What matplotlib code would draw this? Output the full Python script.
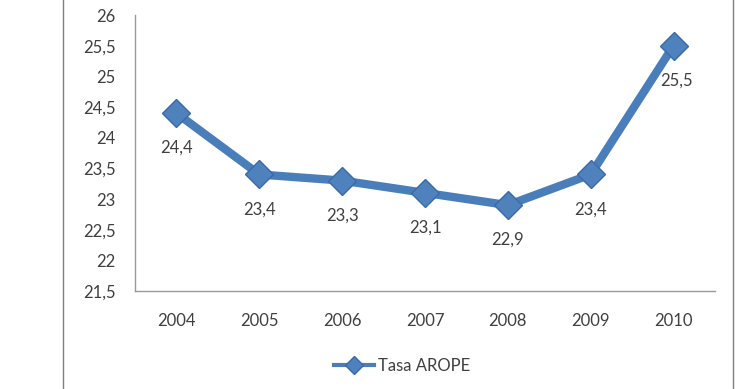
import matplotlib.pyplot as plt
from matplotlib.lines import Line2D
import numpy as np

plt.rcParams['font.family'] = ['Lato', 'DejaVu Sans']

years = ['2004', '2005', '2006', '2007', '2008', '2009', '2010']
tasa_arope = [24.4, 23.4, 23.3, 23.1, 22.9, 23.4, 25.5]
yticks = [21.5, 22, 22.5, 23, 23.5, 24, 24.5, 25, 25.5, 26]

blue = '#4a7ebb'
text_col = '#404040'

fig = plt.figure(figsize=(7.4, 3.89), dpi=100)
ax = fig.add_axes([135 / 740, 1 - 291 / 389, 580 / 740, 276 / 389])

x = np.arange(len(years))
ax.plot(x, tasa_arope, color=blue, lw=6, marker='D', ms=14,
        markerfacecolor='#4f81bd', markeredgecolor='#3a6aa8', markeredgewidth=1,
        solid_capstyle='round', label='Tasa AROPE', zorder=3)

for xi, v in zip(x, tasa_arope):
    lbl = f'{v:.1f}'.replace('.', ',')
    ax.annotate(lbl, (xi, v), xytext=(2 if xi == 6 else 0, -25), textcoords='offset points',
                ha='center', va='center', fontsize=12, color=text_col, zorder=4)

ax.set_xlim(-0.5, len(years) - 0.5)
ax.set_ylim(21.5, 26)
ax.set_xticks(x)
ax.set_xticklabels(years)
ax.set_yticks(yticks)
ax.set_yticklabels([f'{t:g}'.replace('.', ',') for t in yticks])
ax.tick_params(length=0, labelsize=12, colors=text_col)
ax.tick_params(axis='y', pad=14)
ax.tick_params(axis='x', pad=16)

for side in ['top', 'right']:
    ax.spines[side].set_visible(False)
for side in ['left', 'bottom']:
    ax.spines[side].set_color('#9a9a9a')
    ax.spines[side].set_linewidth(1)

handle = Line2D([], [], color=blue, lw=3, marker='D', ms=9,
                markerfacecolor='#4f81bd', markeredgecolor='#3a6aa8')
fig.legend([handle], ['Tasa AROPE'], loc='center', bbox_to_anchor=(402 / 740, 1 - 366 / 389),
           frameon=False, fontsize=12, labelcolor=text_col, handlelength=2.4, handletextpad=0.2)

# outer chart border (only the sides are visible in the crop)
fig.add_artist(Line2D([63 / 740, 63 / 740], [0, 1], color='#7f7f7f', lw=1, transform=fig.transFigure))
fig.add_artist(Line2D([733 / 740, 733 / 740], [0, 1], color='#7f7f7f', lw=1, transform=fig.transFigure))

fig.savefig('out.png', dpi=100)
